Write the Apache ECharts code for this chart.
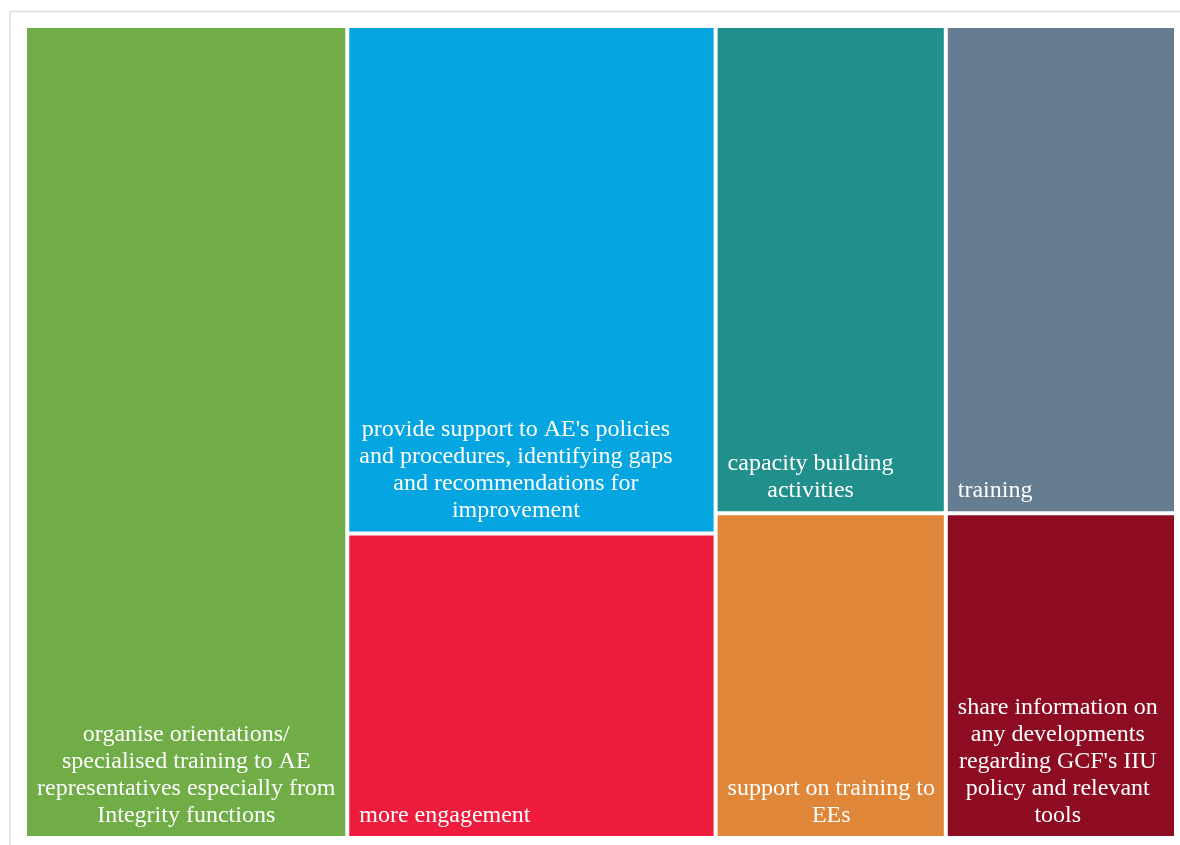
<!DOCTYPE html>
<html>
<head>
<meta charset="utf-8">
<script src="https://cdn.jsdelivr.net/npm/echarts@6/dist/echarts.min.js"></script>
<style>
  html, body { margin: 0; padding: 0; background: #ffffff; }
  #chart { width: 1180px; height: 845px; }
</style>
</head>
<body>
<div id="chart"></div>
<script>
// Responses: suggested support activities
const categories = [
  'organise orientations/\nspecialised training to AE\nrepresentatives especially from\nIntegrity functions',
  "provide support to AE's policies\nand procedures, identifying gaps\nand recommendations for\nimprovement",
  'more engagement',
  'capacity building\nactivities',
  'training',
  'support on training to\nEEs',
  "share information on\nany developments\nregarding GCF's IIU\npolicy and relevant\ntools"
];
const values = [7, 5, 3, 3, 3, 2, 2];
const colors = ['#70AD47', '#05A5E1', '#EE1B3C', '#218F8B', '#667C91', '#DF8638', '#8E0C21'];

// How the tiles are grouped into blocks (indices into the arrays above)
const blocks = [[0, [1, 2]], [[3, 4], [5, 6]]];

const FONT_FAMILY = '"Liberation Serif", "Times New Roman", serif';
const FONT_SIZE = 24;
const LINE_HEIGHT = 27;
const LABEL_INSET = 10;

// Text block width, used to keep each label block at the tile's left edge
const measureCtx = document.createElement('canvas').getContext('2d');
measureCtx.font = FONT_SIZE + 'px ' + FONT_FAMILY;
function blockWidth(text) {
  return Math.max.apply(null, text.split('\n').map(function (l) { return measureCtx.measureText(l).width; }));
}

function leaf(i) {
  return {
    name: categories[i],
    value: values[i],
    itemStyle: { color: colors[i], borderWidth: 2, borderColor: '#ffffff' },
    label: { position: [LABEL_INSET + blockWidth(categories[i]) / 2, '100%'] }
  };
}

function build(node) {
  if (typeof node === 'number') return leaf(node);
  const children = node.map(build);
  return {
    name: '',
    value: children.reduce(function (s, c) { return s + c.value; }, 0),
    itemStyle: { borderWidth: 0, gapWidth: 0 },
    children: children
  };
}

const chart = echarts.init(document.getElementById('chart'), null, { renderer: 'canvas' });
chart.setOption({
  animation: false,
  backgroundColor: '#ffffff',
  graphic: [{
    type: 'rect',
    silent: true,
    shape: { x: 10, y: 11.5, width: 1200, height: 900 },
    style: { fill: 'none', stroke: '#dedede', lineWidth: 1.5 }
  }],
  series: [{
    type: 'treemap',
    left: 25,
    top: 26,
    width: 1151,
    height: 812,
    sort: false,
    squareRatio: 1.3,
    roam: false,
    nodeClick: false,
    silent: true,
    breadcrumb: { show: false },
    itemStyle: { borderWidth: 0, gapWidth: 0, borderColor: '#ffffff' },
    upperLabel: { show: false },
    label: {
      show: true,
      formatter: '{b}',
      color: '#ffffff',
      fontFamily: FONT_FAMILY,
      fontSize: FONT_SIZE,
      lineHeight: LINE_HEIGHT,
      align: 'center',
      verticalAlign: 'bottom',
      padding: 0,
      overflow: 'none',
      offset: [0, -7]
    },
    emphasis: { disabled: true },
    data: blocks.map(build)
  }]
});
</script>
</body>
</html>
